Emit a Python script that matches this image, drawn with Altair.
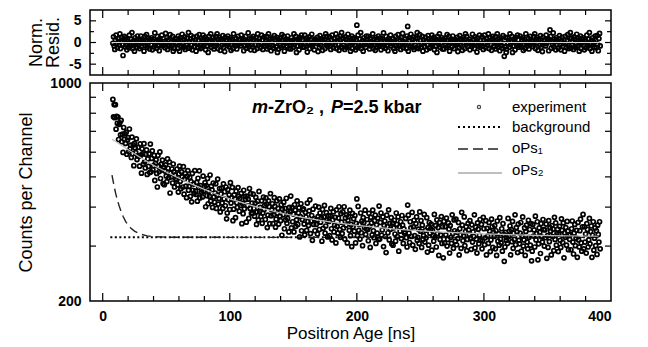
import altair as alt
import pandas as pd

FONT = "Liberation Sans"

# channel axis of the spectrum (ns)
CH_START = 8.0
CH_WIDTH = 0.5

# experiment: counts per channel, 20 channels per row
counts = [
    886, 779, 853, 774, 852, 711, 782, 743, 778, 659, 737, 745, 682, 759, 648, 686, 599, 720, 660, 687,
    640, 695, 591, 656, 668, 602, 712, 614, 632, 577, 671, 593, 633, 543, 640, 619, 598, 662, 568, 584,
    622, 582, 541, 638, 587, 514, 615, 593, 549, 639, 559, 534, 591, 610, 509, 571, 540, 593, 516, 637,
    519, 573, 606, 527, 543, 586, 487, 553, 567, 513, 464, 586, 541, 520, 601, 494, 548, 526, 566, 476,
    537, 472, 522, 546, 503, 483, 571, 533, 497, 558, 444, 514, 500, 530, 478, 550, 519, 464, 507, 494,
    489, 530, 471, 447, 511, 541, 484, 458, 519, 500, 464, 539, 440, 493, 513, 467, 429, 502, 524, 453,
    466, 498, 433, 483, 416, 513, 453, 474, 442, 524, 450, 439, 480, 418, 495, 463, 523, 428, 469, 446,
    446, 431, 503, 450, 465, 479, 401, 469, 435, 494, 410, 450, 433, 507, 418, 467, 454, 399, 478, 431,
    415, 444, 475, 396, 436, 492, 409, 426, 459, 386, 441, 460, 412, 396, 475, 425, 448, 404, 464, 367,
    383, 455, 422, 438, 393, 479, 412, 428, 463, 362, 394, 438, 425, 370, 450, 413, 399, 462, 433, 388,
    427, 405, 443, 354, 411, 381, 453, 395, 433, 423, 358, 434, 404, 424, 368, 459, 396, 442, 382, 412,
    382, 440, 396, 374, 412, 430, 352, 386, 418, 364, 449, 387, 399, 373, 419, 355, 383, 431, 393, 405,
    365, 428, 409, 344, 377, 419, 401, 354, 442, 375, 392, 410, 354, 378, 429, 402, 345, 366, 419, 382,
    396, 353, 425, 374, 362, 407, 325, 394, 378, 415, 341, 396, 364, 427, 355, 368, 382, 333, 399, 386,
    434, 343, 399, 359, 380, 333, 407, 391, 347, 364, 419, 352, 383, 398, 321, 373, 410, 336, 365, 392,
    395, 353, 326, 385, 372, 337, 412, 360, 349, 389, 422, 329, 361, 376, 313, 394, 352, 367, 336, 403,
    352, 364, 328, 373, 400, 339, 383, 358, 370, 311, 393, 342, 372, 405, 330, 348, 384, 363, 321, 376,
    360, 324, 375, 396, 341, 314, 364, 386, 333, 350, 371, 307, 392, 347, 330, 369, 401, 339, 320, 381,
    358, 329, 386, 343, 401, 316, 369, 350, 378, 307, 363, 373, 337, 391, 324, 352, 299, 382, 346, 367,
    335, 376, 307, 355, 425, 324, 402, 337, 352, 316, 383, 331, 361, 301, 370, 357, 344, 391, 327, 341,
    365, 339, 312, 382, 347, 297, 371, 356, 326, 391, 336, 319, 362, 377, 306, 351, 330, 369, 315, 403,
    316, 357, 383, 325, 338, 372, 299, 349, 361, 322, 286, 377, 346, 331, 392, 314, 355, 340, 370, 305,
    356, 302, 343, 363, 328, 311, 383, 352, 322, 372, 289, 346, 335, 359, 317, 376, 350, 306, 341, 330,
    333, 368, 319, 298, 406, 377, 330, 308, 359, 343, 322, 385, 302, 346, 363, 324, 293, 354, 372, 313,
    320, 340, 306, 386, 335, 362, 297, 350, 315, 324, 379, 309, 337, 319, 370, 287, 344, 302, 357, 330,
    340, 353, 291, 337, 324, 311, 379, 320, 349, 298, 364, 329, 344, 280, 357, 315, 326, 373, 306, 346,
    275, 360, 307, 346, 326, 369, 300, 315, 356, 340, 285, 349, 320, 306, 378, 329, 295, 364, 336, 311,
    366, 303, 332, 317, 357, 281, 341, 326, 295, 385, 350, 312, 323, 372, 301, 334, 346, 290, 315, 355,
    338, 327, 362, 318, 293, 351, 309, 333, 322, 378, 296, 345, 316, 285, 356, 340, 305, 325, 365, 313,
    352, 294, 312, 371, 341, 303, 319, 362, 281, 342, 323, 306, 357, 335, 288, 314, 366, 346, 297, 332,
    322, 349, 294, 336, 280, 361, 311, 329, 302, 370, 316, 307, 341, 289, 354, 327, 268, 298, 332, 313,
    319, 306, 368, 322, 335, 348, 281, 339, 310, 360, 295, 330, 315, 378, 303, 344, 333, 286, 353, 313,
    305, 330, 357, 289, 323, 372, 300, 314, 343, 280, 334, 350, 309, 294, 363, 320, 339, 302, 354, 269,
    289, 352, 323, 338, 298, 374, 314, 329, 359, 271, 305, 343, 332, 284, 354, 321, 309, 365, 339, 300,
    338, 319, 353, 274, 324, 297, 362, 310, 344, 335, 281, 349, 322, 340, 290, 371, 315, 356, 302, 329,
    340, 288, 328, 347, 313, 297, 367, 337, 308, 356, 275, 331, 320, 344, 302, 360, 335, 292, 326, 315,
    327, 292, 341, 361, 309, 283, 330, 352, 301, 318, 337, 276, 357, 314, 298, 336, 366, 307, 289, 346,
    379, 294, 346, 309, 328, 285, 354, 339, 298, 314, 368, 305, 334, 348, 276, 325, 359, 291, 318, 343,
    301, 336, 282, 350, 327, 309, 359, 294,
]

# normalised residuals, 20 channels per row
resid = [
    -0.2, 1.3, -0.8, -1.6, 0.6, 1.7, -0.3, -1.2, 0.9, 0.2, -0.6, 2.0, -1.4, 0.4, 1.1, -0.5, -3.0, 0.7, 1.4, -1.0,
    1.1, -0.6, -1.7, 0.7, 0.2, -1.2, 1.7, -0.3, -0.8, 0.8, 2.3, -1.4, -0.2, 0.5, -2.0, 1.1, -0.5, 0.1, -1.1, 1.5,
    -0.4, 0.1, -1.4, 0.5, 1.5, -0.9, 0.8, -0.2, 0.3, -2.0, 1.4, -0.7, 0.5, 1.8, -1.1, -0.5, 1.0, 0.2, -1.5, 0.7,
    -0.5, 1.1, -1.7, 0.3, 0.8, -1.0, 2.2, -0.5, 0.2, -1.3, 1.4, -0.7, 0.5, -1.9, 0.9, 0.4, -0.2, 1.7, -0.8, -0.3,
    -0.6, 0.2, -1.2, 2.1, 0.0, 1.1, -1.6, 0.6, -0.8, -0.5, 1.8, -1.1, 0.1, -0.7, 1.4, -2.0, 0.4, -1.4, 0.9, -0.2,
    0.8, -0.2, -1.4, 1.5, 0.1, -2.0, 1.1, 0.5, -0.8, 1.9, -0.4, -1.1, 0.7, 1.3, -1.6, 0.2, -0.6, 1.0, -1.2, 2.3,
    0.2, -1.3, 0.8, 1.6, -0.6, -1.7, 0.3, 1.2, -0.9, -0.2, 0.6, -2.0, 1.4, -0.4, -1.1, 0.5, 1.8, -0.7, -1.4, 1.0,
    -1.1, 0.6, 1.7, -0.7, -0.2, 1.2, -1.7, 0.3, 0.8, -0.8, -2.3, 1.4, 0.2, -0.5, 2.0, -1.1, 0.5, -0.1, 1.1, -1.5,
    0.2, -0.9, 1.4, -0.4, 2.0, -1.4, 0.7, -0.1, 1.1, -1.8, 0.5, 0.8, -0.6, 1.6, -1.1, 0.0, -2.1, 1.2, -0.2, 0.6,
    -0.7, 1.5, -0.2, -1.0, 0.5, 1.1, -1.8, -0.5, 0.7, -1.4, 2.0, -0.3, 0.2, -0.8, 0.9, -1.5, -0.5, 1.4, -0.1, 0.4,
    -0.3, -0.8, 1.7, -0.2, 0.4, 0.9, -1.9, 0.5, -0.7, 1.4, -1.3, 0.2, -0.5, 2.2, -1.0, 0.8, 0.3, -1.7, 1.1, -0.5,
    -1.0, 1.4, 0.7, -1.8, -0.5, 1.1, 0.4, -1.4, 2.0, -0.6, 0.2, 0.9, -1.2, -0.3, 1.7, 0.6, -1.6, -0.8, 1.3, -0.2,
    -0.8, 0.2, 1.4, -1.5, -0.1, 2.0, -1.1, -0.5, 0.8, -1.9, 0.4, 1.1, -0.7, -1.3, 1.6, -0.2, 0.6, -1.0, 1.2, -2.3,
    0.7, -1.5, 0.2, 1.0, -0.5, -1.1, 1.8, 0.5, -0.7, 1.4, -2.0, 0.3, -0.2, 0.8, -0.9, 1.5, 0.5, -1.4, 0.1, -0.4,
    -1.5, 1.1, -0.1, 0.5, -1.1, 2.0, -0.5, 0.2, 1.4, -2.3, -0.8, 0.8, 0.3, -1.7, 1.2, -0.2, -0.7, 1.7, 0.6, -1.1,
    0.5, -1.1, 1.7, -0.3, -0.8, 1.0, -2.2, 0.5, -0.2, 1.3, -1.4, 0.7, -0.5, 1.9, -0.9, -0.4, 0.2, -1.7, 0.8, 0.3,
    0.6, -0.2, 1.2, -2.1, 0.0, -1.1, 1.6, -0.6, 0.8, 0.5, -1.8, 1.1, -0.1, 0.7, -1.4, 2.0, -0.4, 1.4, -0.9, 0.2,
    -0.2, 1.3, -0.8, -1.6, 0.6, 1.7, -0.3, -1.2, 0.9, 0.2, -0.6, 2.0, -1.4, 0.4, 1.1, -0.5, -1.8, 0.7, 1.4, -1.0,
    2.3, -1.2, 1.0, -0.6, 0.2, -1.6, 1.3, 0.7, -1.1, -0.4, 1.9, -0.8, 0.5, 1.1, -2.0, 0.1, 1.5, -1.4, -0.2, 0.8,
    1.1, -0.6, -1.7, 0.7, 4.0, -1.2, 1.7, -0.3, -0.8, 0.8, 2.3, -1.4, -0.2, 0.5, -2.0, 1.1, -0.5, 0.1, -1.1, 1.5,
    0.4, -0.1, 1.4, -0.5, -1.5, 0.9, -0.8, 0.2, -0.3, 2.0, -1.4, 0.7, -0.5, -1.8, 1.1, 0.5, -1.0, -0.2, 1.5, -0.7,
    -0.5, 1.1, -1.7, 0.3, 0.8, -1.0, 2.2, -0.5, 0.2, -1.3, 1.4, -0.7, 0.5, -1.9, 0.9, 0.4, -0.2, 1.7, -0.8, -0.3,
    -0.2, 0.9, -1.4, 0.4, -2.0, 1.4, -0.7, 0.1, -1.1, 1.8, -0.5, -0.8, 0.6, -1.6, 1.1, 0.0, 2.1, -1.2, 0.2, -0.6,
    0.8, -0.2, -1.4, 1.5, 3.7, -2.0, 1.1, 0.5, -0.8, 1.9, -0.4, -1.1, 0.7, 1.3, -1.6, 0.2, -0.6, 1.0, -1.2, 2.3,
    1.0, -1.4, -0.7, 1.8, 0.5, -1.1, -0.4, 1.4, -2.0, 0.6, -0.2, -0.9, 1.2, 0.3, -1.7, -0.6, 1.6, 0.8, -1.3, 0.2,
    -1.1, 0.6, 1.7, -0.7, -0.2, 1.2, -1.7, 0.3, 0.8, -0.8, -2.3, 1.4, 0.2, -0.5, 2.0, -1.1, 0.5, -0.1, 1.1, -1.5,
    0.7, -1.5, 0.2, 1.0, -0.5, -1.1, 1.8, 0.5, -0.7, 1.4, -2.0, 0.3, -0.2, 0.8, -0.9, 1.5, 0.5, -1.4, 0.1, -0.4,
    0.6, -0.2, 1.2, -2.1, 0.0, -1.1, 1.6, -0.6, 0.8, 0.5, -1.8, 1.1, -0.1, 0.7, -1.4, 2.0, -0.4, 1.4, -0.9, 0.2,
    0.3, 0.8, -1.7, 0.2, -0.4, -0.9, 1.9, -0.5, 0.7, -1.4, 1.3, -0.2, 0.5, -2.2, 1.0, -0.8, -0.3, 1.7, -1.1, 0.5,
    -0.2, 1.3, -0.8, -1.6, 0.6, 1.7, -0.3, -1.2, 0.9, 0.2, -0.6, 2.0, -1.4, 0.4, 1.1, -0.5, -1.8, 0.7, 1.4, -1.0,
    -0.8, 0.2, 1.4, -1.5, -0.1, 2.0, -1.1, -0.5, 0.8, -1.9, 0.4, 1.1, -0.7, -1.3, 1.6, -0.2, -3.2, -1.0, 1.2, -2.3,
    -1.5, 1.1, -0.1, 0.5, -1.1, 2.0, -0.5, 0.2, 1.4, -2.3, -0.8, 0.8, 0.3, -1.7, 1.2, -0.2, -0.7, 1.7, 0.6, -1.1,
    -0.7, 1.5, -0.2, -1.0, 0.5, 1.1, -1.8, -0.5, 0.7, -1.4, 2.0, -0.3, 0.2, -0.8, 0.9, -1.5, -0.5, 1.4, -0.1, 0.4,
    0.2, -0.9, 1.4, -0.4, 2.0, -1.4, 0.7, -0.1, 1.1, -1.8, 0.5, 0.8, -0.6, 1.6, -1.1, 0.0, -2.1, 1.2, -0.2, 0.6,
    -0.3, -0.8, 1.7, -0.2, 0.4, 0.9, -1.9, 0.5, 2.9, 1.4, -1.3, 0.2, -0.5, 2.2, -1.0, 0.8, 0.3, -1.7, 1.1, -0.5,
    0.2, -1.3, 0.8, 1.6, -0.6, -1.7, 0.3, 1.2, -0.9, -0.2, 0.6, -2.0, 1.4, -0.4, -1.1, 0.5, 1.8, -0.7, -1.4, 1.0,
    2.3, -1.2, 1.0, -0.6, 0.2, -1.6, 1.3, 0.7, -1.1, -0.4, 1.9, -0.8, 0.5, 1.1, -2.0, 0.1, 1.5, -1.4, -0.2, 0.8,
    1.1, -0.6, -1.7, 0.7, 0.2, -1.2, 1.7, -0.3, -0.8, 0.8, 2.3, -1.4, -0.2, 0.5, -2.0, 1.1, -0.5, 0.1, -1.1, 1.5,
    0.4, -1.2, 1.6, -0.5, -1.9, 0.9, 2.1, -0.8,
]

t = [round(CH_START + CH_WIDTH * i, 2) for i in range(len(counts))]

# fitted components
bg_t = [6, 390]
bg_y = [320, 320]

ops1_t = [7.3, 8, 9, 10, 11, 12, 13, 14, 15, 16, 18, 20, 22, 25, 30, 35, 40, 50, 100, 200, 300, 390]
ops1_y = [507, 489, 467, 446, 430, 415, 403, 392, 382, 374, 360, 350, 343, 335, 327.5, 323.6,
          321.8, 320.4, 320, 320, 320, 320]

ops2_t = [7.4, 10, 15, 20, 30, 40, 50, 60, 70, 80, 90, 100, 120, 140, 160, 180, 200, 230, 260,
          300, 340, 390]
ops2_y = [660, 650, 630, 611, 576, 545, 518.5, 495, 474, 456, 439, 425, 401.5, 383, 369, 358,
          349.5, 340, 333.7, 328.2, 324.9, 322.6]

zero_t = [7, 391]
zero_v = [0, 0]

# tick positions
x_labels = [0, 100, 200, 300, 400]
x_major = [0, 100, 200, 300]
x_minor = [20, 40, 60, 80, 120, 140, 160, 180, 220, 240, 260, 280, 320, 340, 360, 380]
cnt_labels = [200, 1000]
cnt_ticks = [300, 400, 500, 600, 700, 800, 900]
res_major = [-5, 0, 5]
res_minor = [-2.5, 2.5]

W = 521
H_TOP = 65
H_BOT = 218

xscale = alt.Scale(domain=[-10, 400], nice=False, zero=False)
rscale = alt.Scale(domain=[-7.5, 7.5], nice=False, zero=False)
cscale = alt.Scale(type="log", domain=[200, 1000], nice=False)

# identical axis objects for every layer that shares a channel
x_axis_bot = alt.Axis(values=x_labels, format="d", title="Positron Age [ns]",
                      labelPadding=8, titlePadding=2, titleFontSize=17)
y_axis_bot = alt.Axis(values=cnt_labels, format="d", title="Counts per Channel",
                      titleX=-64, titleY=109, titleAngle=270, titleAlign="center",
                      titleBaseline="middle")
y_axis_top = alt.Axis(values=res_major, title=["Norm.", "Resid."],
                      labelExpr="datum.value < 0 ? '-' + abs(datum.value) : datum.label",
                      titleX=-54, titleY=32, titleAngle=270, titleAlign="center",
                      titleBaseline="middle", titleLineHeight=17)


def xticks(vals, length, h, xaxis):
    base = alt.Chart(pd.DataFrame({"tk": vals}))
    top = base.mark_rule(color="black", strokeWidth=1.2).encode(
        x=alt.X("tk:Q", scale=xscale, axis=xaxis), y=alt.value(0), y2=alt.value(length))
    bot = base.mark_rule(color="black", strokeWidth=1.2).encode(
        x=alt.X("tk:Q", scale=xscale, axis=xaxis), y=alt.value(h), y2=alt.value(h - length))
    return [top, bot]


def yticks(vals, length, yscale, yaxis):
    base = alt.Chart(pd.DataFrame({"tv": vals}))
    left = base.mark_rule(color="black", strokeWidth=1.2).encode(
        y=alt.Y("tv:Q", scale=yscale, axis=yaxis), x=alt.value(0), x2=alt.value(length))
    right = base.mark_rule(color="black", strokeWidth=1.2).encode(
        y=alt.Y("tv:Q", scale=yscale, axis=yaxis), x=alt.value(W), x2=alt.value(W - length))
    return [left, right]


point_style = dict(shape="circle", filled=False, stroke="#000000",
                   strokeWidth=1.7, size=16, opacity=1)

# ---------------- top panel: residuals ----------------
res_df = pd.DataFrame({"t": t, "r": resid})
res_pts = alt.Chart(res_df).mark_point(**point_style).encode(
    x=alt.X("t:Q", scale=xscale, axis=None),
    y=alt.Y("r:Q", scale=rscale, axis=y_axis_top),
)
zero_line = alt.Chart(pd.DataFrame({"t": zero_t, "v": zero_v})).mark_line(
    color="#d8d8d8", strokeWidth=1).encode(
    x=alt.X("t:Q", scale=xscale, axis=None), y=alt.Y("v:Q", scale=rscale, axis=y_axis_top))

top_layers = [res_pts, zero_line]
top_layers += xticks(x_major, 8, H_TOP, None) + xticks(x_minor, 5, H_TOP, None)
top_layers += yticks(res_major, 6, rscale, y_axis_top) + yticks(res_minor, 4, rscale, y_axis_top)
top = alt.layer(*top_layers).properties(width=W, height=H_TOP)

# ---------------- bottom panel: spectrum ----------------
exp_df = pd.DataFrame({"t": t, "c": counts})
bg_line = alt.Chart(pd.DataFrame({"t": bg_t, "v": bg_y})).mark_line(
    color="black", strokeWidth=2, strokeDash=[2, 2.5]).encode(
    x=alt.X("t:Q", scale=xscale, axis=x_axis_bot), y=alt.Y("v:Q", scale=cscale, axis=y_axis_bot))
ops1_line = alt.Chart(pd.DataFrame({"t": ops1_t, "v": ops1_y})).mark_line(
    color="#222222", strokeWidth=1.4, strokeDash=[9, 5]).encode(
    x=alt.X("t:Q", scale=xscale, axis=x_axis_bot), y=alt.Y("v:Q", scale=cscale, axis=y_axis_bot))
exp_pts = alt.Chart(exp_df).mark_point(**point_style).encode(
    x=alt.X("t:Q", scale=xscale, axis=x_axis_bot),
    y=alt.Y("c:Q", scale=cscale, axis=y_axis_bot),
)
ops2_line = alt.Chart(pd.DataFrame({"t": ops2_t, "v": ops2_y})).mark_line(
    color="#bcbcbc", strokeWidth=1.2).encode(
    x=alt.X("t:Q", scale=xscale, axis=x_axis_bot), y=alt.Y("v:Q", scale=cscale, axis=y_axis_bot))

one = pd.DataFrame({"k": [0]})


def txt(s, x, y, size=18, weight="bold", style="normal", baseline="alphabetic"):
    return alt.Chart(one).mark_text(
        text=s, font=FONT, fontSize=size, fontWeight=weight, fontStyle=style,
        align="left", baseline=baseline, color="black").encode(
        x=alt.value(x), y=alt.value(y))


annot = [
    txt("m", 162, 30, style="italic"),
    txt("-ZrO\u2082 ,", 178, 30),
    txt("P", 241, 30, style="italic"),
    txt("=2.5 kbar", 253, 30),
]

leg_pt = alt.Chart(one).mark_point(shape="circle", filled=False, stroke="black",
                                   strokeWidth=1.3, size=10).encode(
    x=alt.value(389), y=alt.value(24))
leg_bg = alt.Chart(one).mark_rule(color="black", strokeWidth=2, strokeDash=[2, 3]).encode(
    x=alt.value(368), x2=alt.value(412), y=alt.value(44))
leg_o1 = alt.Chart(one).mark_rule(color="#222222", strokeWidth=1.6, strokeDash=[10, 5]).encode(
    x=alt.value(368), x2=alt.value(412), y=alt.value(66))
leg_o2 = alt.Chart(one).mark_rule(color="#aaaaaa", strokeWidth=1.3).encode(
    x=alt.value(368), x2=alt.value(412), y=alt.value(90))
legend = [
    leg_pt, leg_bg, leg_o1, leg_o2,
    txt("experiment", 422, 24, size=15, weight="normal", baseline="middle"),
    txt("background", 422, 44, size=15, weight="normal", baseline="middle"),
    txt("oPs\u2081", 422, 65, size=15, weight="normal", baseline="middle"),
    txt("oPs\u2082", 422, 87, size=15, weight="normal", baseline="middle"),
]

bot_layers = [bg_line, ops1_line, exp_pts, ops2_line]
bot_layers += xticks(x_major, 8, H_BOT, x_axis_bot) + xticks(x_minor, 5, H_BOT, x_axis_bot)
bot_layers += yticks(cnt_ticks, 6, cscale, y_axis_bot)
bot_layers += annot + legend
bottom = alt.layer(*bot_layers).properties(width=W, height=H_BOT)

chart = alt.vconcat(top, bottom, spacing=8, bounds="flush").properties(
    padding={"left": 8, "top": 0, "right": 5, "bottom": 0}
).configure_view(
    stroke="black", strokeWidth=1.5
).configure_axis(
    labelFont=FONT, titleFont=FONT, labelFontSize=14, labelFontWeight="bold",
    titleFontSize=18, titleFontWeight="normal", labelColor="black", titleColor="black",
    domain=False, grid=False, ticks=False, tickSize=0, labelPadding=9
)

chart.save("out.html", embed_options={"renderer": "svg", "actions": False})
